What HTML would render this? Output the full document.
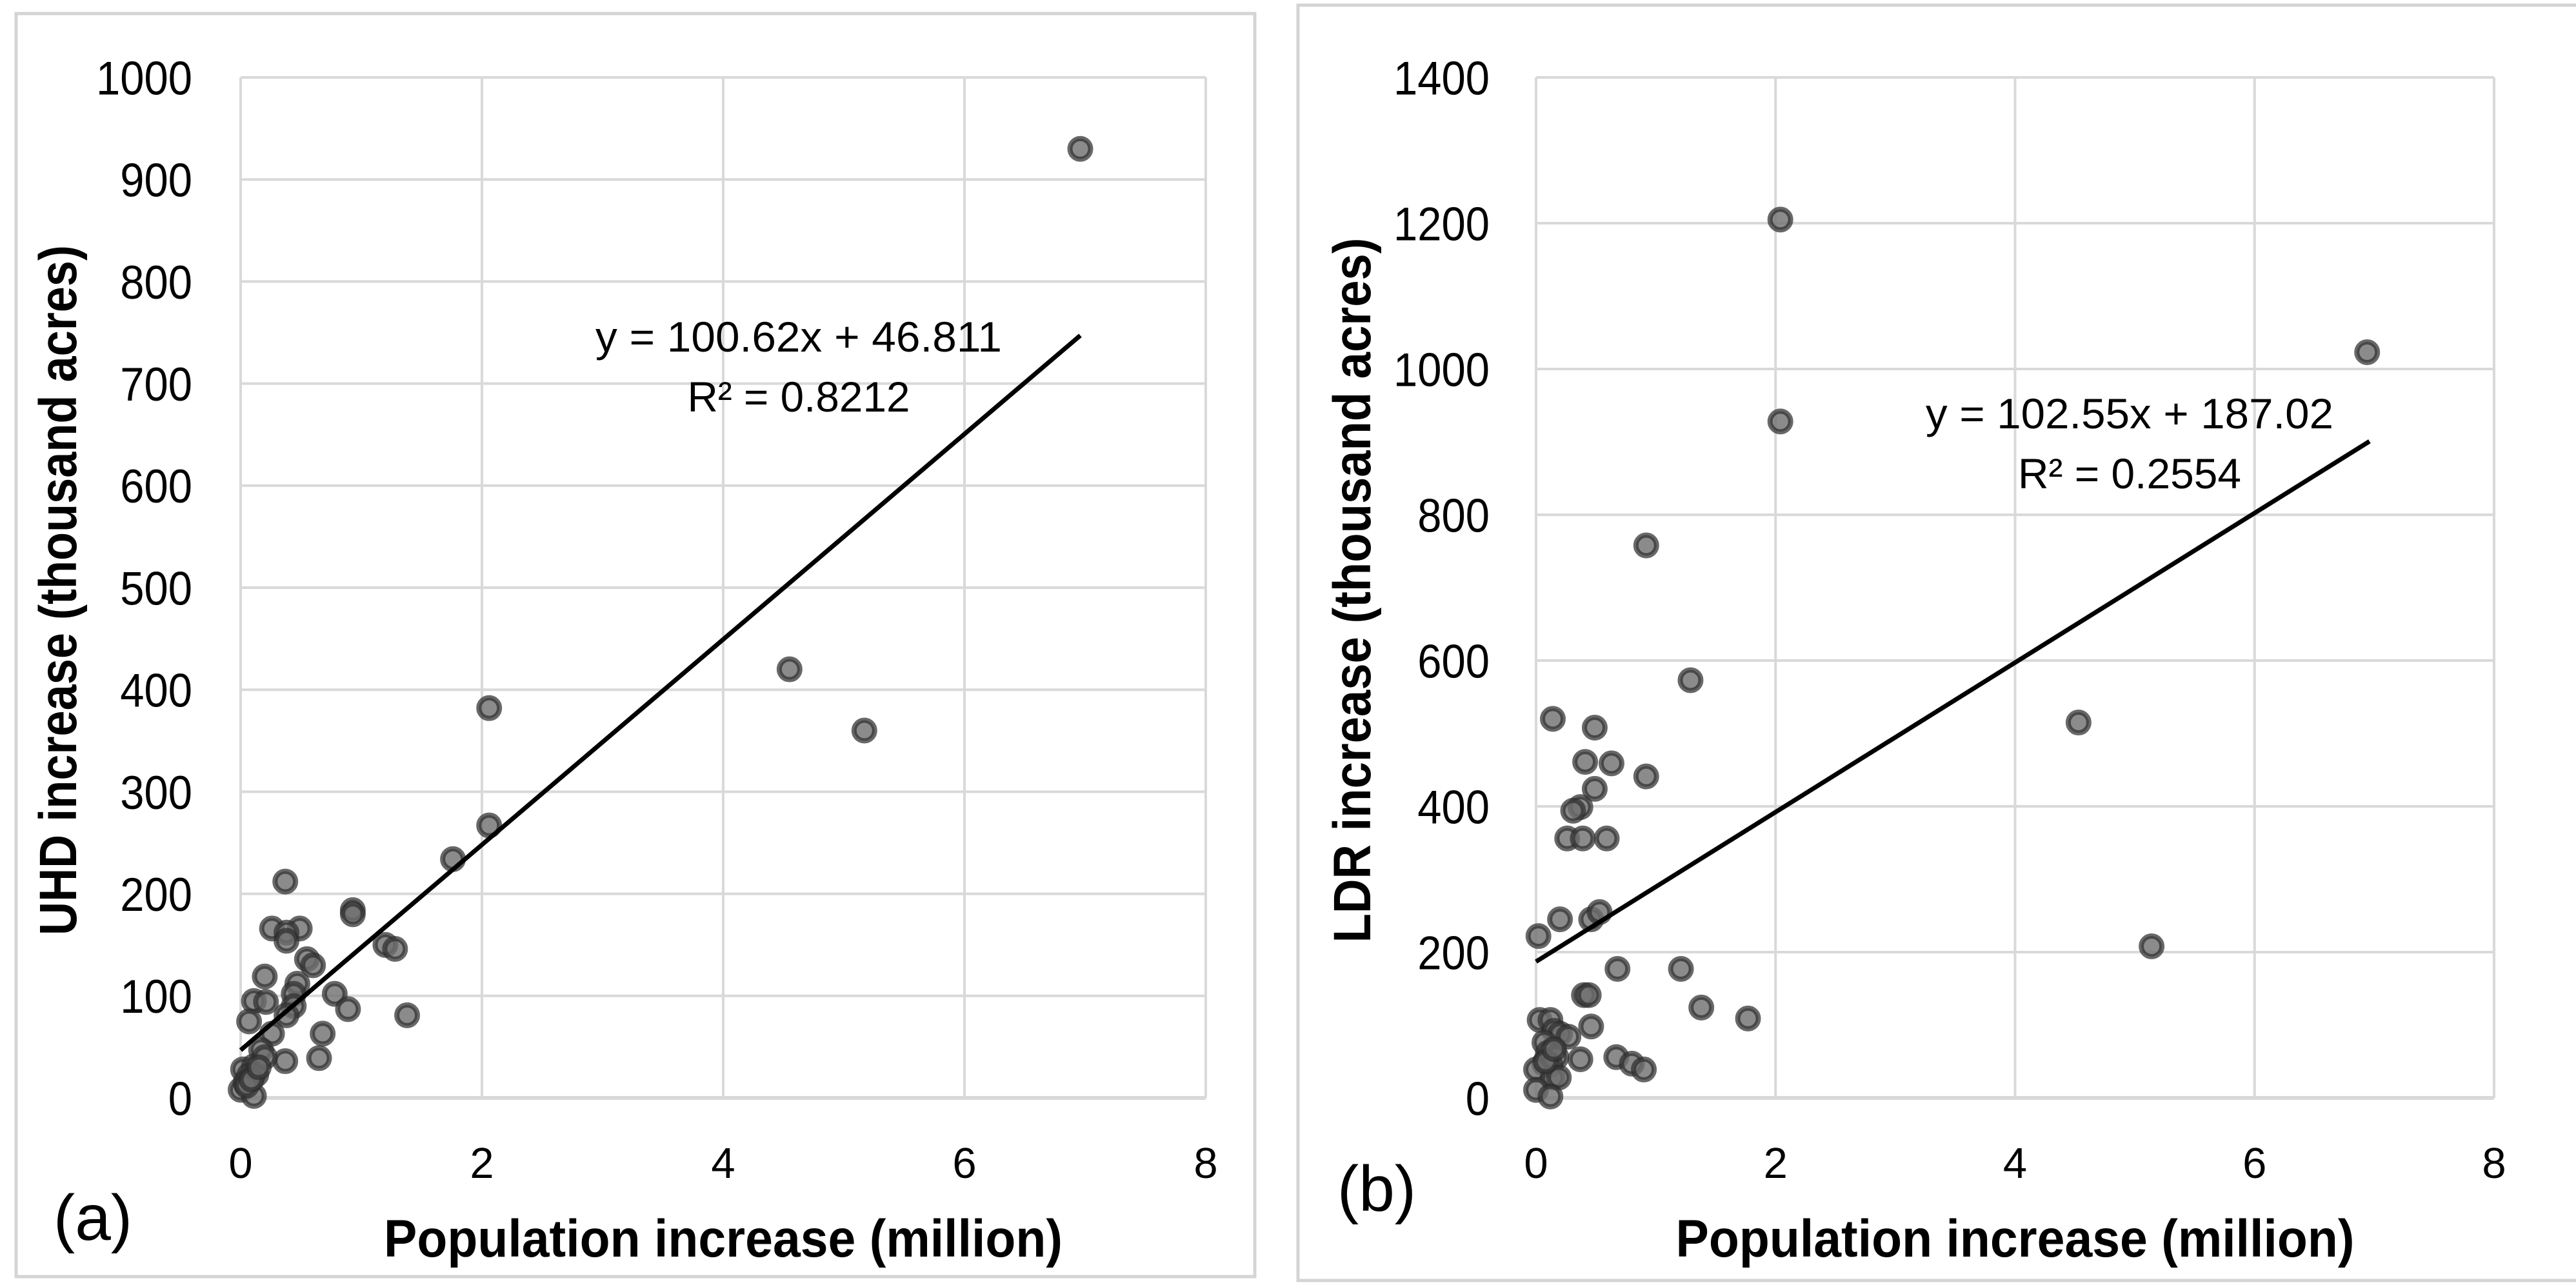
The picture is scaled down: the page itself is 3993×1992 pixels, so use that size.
<!DOCTYPE html>
<html><head><meta charset="utf-8"><style>
html,body{margin:0;padding:0;background:#fff;}
svg{display:block;}
text{font-family:"Liberation Sans",sans-serif;fill:#000;}
</style></head><body>
<svg id="chart" width="3993" height="1992" viewBox="0 0 3993 1992" xmlns="http://www.w3.org/2000/svg">
<rect x="0" y="0" width="3993" height="1992" fill="#fff"/>
<g id="panelA"></g>
<g id="panelB"></g>
</svg>
<script>
// Panel (a) data
const uhdX = [6.96,4.55,5.17,2.06,2.06,1.76,0.37,0.93,0.93,0.26,0.49,0.38,0.38,0.55,0.60,1.20,1.28,0.20,0.47,0.44,0.78,0.89,1.38,0.11,0.21,0.44,0.38,0.07,0.26,0.68,0.17,0.37,0.65,0.02,0.11,0.07,0.00,0.11,0.04,0.13,0.20,0.05,0.09,0.15];
const uhdY = [930,420,360,382,267,234,212,184,180,166,166,162,154,136,130,150,146,119,112,102,102,87,81,95,94,90,81,75,63,63,47,36,39,28,31,22,8,2,15,23,40,12,18,30];
const uhdTrend = [100.62, 46.811];
const uhdYTicks = [0,100,200,300,400,500,600,700,800,900,1000];
// Panel (b) data
const ldrX = [2.04,2.04,6.94,0.92,1.29,4.53,5.14,0.14,0.49,0.41,0.63,0.92,0.49,0.37,0.31,0.26,0.39,0.59,0.20,0.02,0.46,0.53,0.68,1.21,0.40,0.44,1.38,1.77,0.46,0.37,0.67,0.80,0.90,0.03,0.12,0.15,0.20,0.27,0.07,0.10,0.17,0.07,0.12,0.00,0.14,0.19,0.00,0.12,0.08,0.15];
const ldrY = [1205,928,1023,758,573,515,208,520,508,461,459,441,424,399,394,356,356,356,245,222,245,255,177,177,141,141,124,109,98,53,56,47,39,107,107,92,88,84,76,62,56,47,45,39,28,28,11,2,50,67];
const ldrTrend = [102.55, 187.02];
const ldrYTicks = [0,200,400,600,800,1000,1200,1400];
const xTicks = [0,2,4,6,8];

const NS = "http://www.w3.org/2000/svg";
function mk(parent, tag, attrs, txt){
  const e = document.createElementNS(NS, tag);
  for (const k in attrs) e.setAttribute(k, attrs[k]);
  if (txt !== undefined) e.textContent = txt;
  parent.appendChild(e);
  return e;
}

function drawPanel(g, cfg){
  const box = mk(g,'rect',{x:cfg.box[0],y:cfg.box[1],width:cfg.box[2],height:cfg.box[3],fill:'#fff',stroke:'#d4d4d4','stroke-width':5});
  
  
  const L=cfg.left, R=cfg.right, T=120, B=1702;
  const yMax = cfg.yTicks[cfg.yTicks.length-1];
  const sx = v => L + (v-0)/(8-0)*(R-L);
  const sy = v => B - v/yMax*(B-T);
  cfg.yTicks.forEach(t=>{
    const ln = mk(g,'line',{x1:L,x2:R,y1:sy(t),y2:sy(t),stroke:'#d9d9d9','stroke-width':t===0?6:4});
    
    
    const tl = mk(g,'text',{x:cfg.tickRight,y:sy(t)+24,'text-anchor':'end','font-size':67,transform:`translate(0,${sy(t)}) scale(1,1.1) translate(0,${-sy(t)})`},String(t));
    
    
  });
  xTicks.forEach(t=>{
    const ln = mk(g,'line',{x1:sx(t),x2:sx(t),y1:T,y2:B,stroke:'#d9d9d9','stroke-width':4});
    
    
    const tl = mk(g,'text',{x:sx(t),y:1826,'text-anchor':'middle','font-size':67},String(t));
    
    
  });
  cfg.xs.forEach((xv,i)=>{
    const c = mk(g,'circle',{cx:sx(xv),cy:sy(cfg.ys[i]),r:16,fill:'#6e6e6e',stroke:'#2e2e2e','stroke-width':8,'fill-opacity':0.8,'stroke-opacity':0.72});
    
    
  });
  const x2 = 6.96;
  const tr = mk(g,'line',{x1:sx(0),y1:sy(cfg.trend[1]),x2:sx(x2),y2:sy(cfg.trend[0]*x2+cfg.trend[1]),stroke:'#000','stroke-width':7});
  
  
  const eq = mk(g,'text',{x:cfg.eqX,y:cfg.eqY,'text-anchor':'middle','font-size':66,textLength:cfg.eqW,lengthAdjust:'spacingAndGlyphs'},cfg.eq);
  
  
  const r2 = mk(g,'text',{x:cfg.eqX,y:cfg.eqY+93,'text-anchor':'middle','font-size':66,textLength:cfg.r2W,lengthAdjust:'spacingAndGlyphs'},cfg.r2);
  
  
  const xt = mk(g,'text',{x:(L+R)/2,y:1948,'text-anchor':'middle','font-size':82,'font-weight':'bold',textLength:1052,lengthAdjust:'spacingAndGlyphs'},'Population increase (million)');
  
  
  const yt = mk(g,'text',{x:0,y:0,'text-anchor':'middle','font-size':82,'font-weight':'bold',textLength:cfg.ytW,lengthAdjust:'spacingAndGlyphs',transform:`translate(${cfg.ytX},${cfg.ytY}) rotate(-90)`},cfg.yTitle);
  
  
  const pl = mk(g,'text',{x:cfg.plX,y:cfg.plY,'text-anchor':'middle','font-size':100},cfg.pl);
  
  
}

drawPanel(document.getElementById('panelA'),{
  box:[25,21,1920,1958], left:373, right:1869, tickRight:298,
  yTicks:uhdYTicks, xs:uhdX, ys:uhdY, trend:uhdTrend,
  eq:'y = 100.62x + 46.811', r2:'R² = 0.8212', eqX:1238, eqY:545, eqW:630, r2W:345,
  yTitle:'UHD increase (thousand acres)', ytX:118, ytY:915, ytW:1070,
  pl:'(a)', plX:144, plY:1922
});
drawPanel(document.getElementById('panelB'),{
  box:[2012,8,3973,1977], left:2381, right:3866, tickRight:2309,
  yTicks:ldrYTicks, xs:ldrX, ys:ldrY, trend:ldrTrend,
  eq:'y = 102.55x + 187.02', r2:'R² = 0.2554', eqX:3301, eqY:664, eqW:632, r2W:346,
  yTitle:'LDR increase (thousand acres)', ytX:2124, ytY:915, ytW:1093,
  pl:'(b)', plX:2134, plY:1877
});
</script>
</body></html>
